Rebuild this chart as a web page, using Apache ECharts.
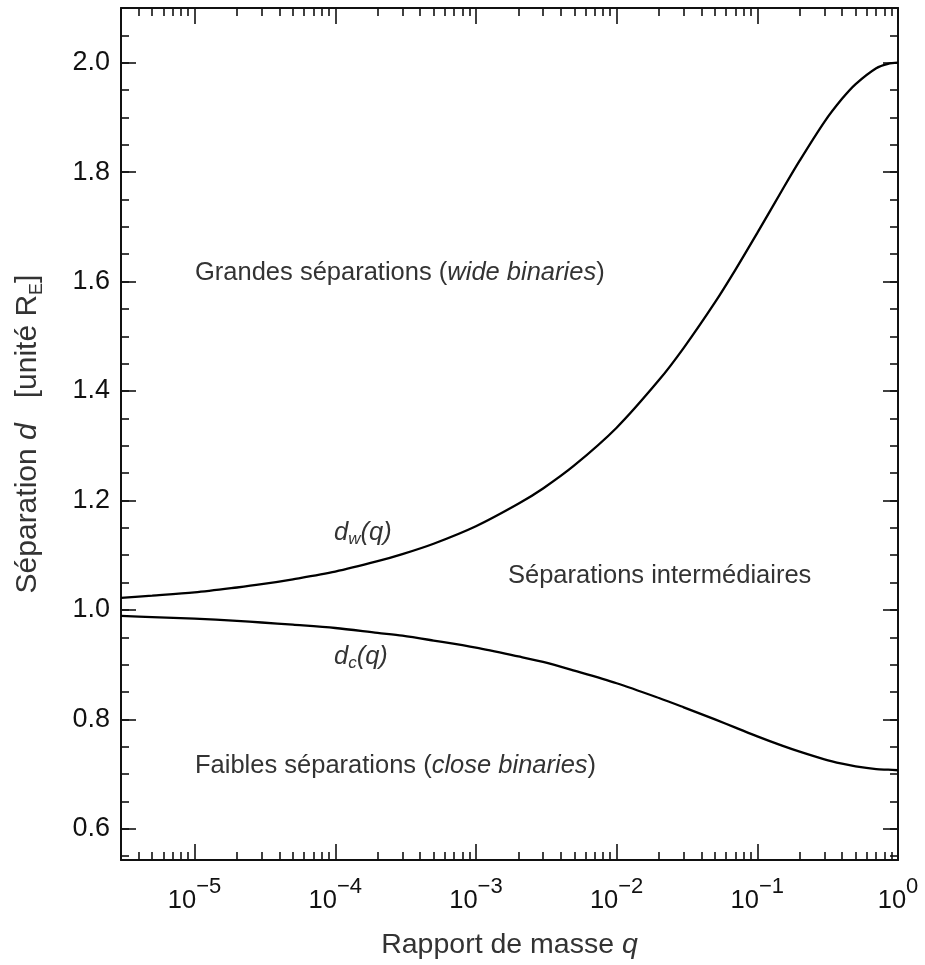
<!DOCTYPE html>
<html>
<head>
<meta charset="utf-8">
<script src="https://cdn.jsdelivr.net/npm/echarts@6/dist/echarts.min.js"></script>
<style>
  html, body { margin: 0; padding: 0; background: #fff; }
  #chart { width: 925px; height: 965px; }
</style>
</head>
<body>
<div id="chart"></div>
<script>
// Mass ratio q (x, log scale)
const qValues = [3e-6, 5e-6, 1e-5, 2e-5, 3e-5, 5e-5, 1e-4, 2e-4, 3e-4, 5e-4,
                 1e-3, 2e-3, 3e-3, 5e-3, 1e-2, 2e-2, 3e-2, 5e-2, 0.07, 0.1,
                 0.15, 0.2, 0.3, 0.4, 0.5, 0.7, 0.85, 1];
// d_w(q): boundary intermediate / wide
const dWide = [1.022, 1.026, 1.032, 1.041, 1.047, 1.056, 1.070, 1.089, 1.102, 1.121,
               1.153, 1.194, 1.222, 1.264, 1.333, 1.420, 1.479, 1.562, 1.622, 1.689,
               1.767, 1.821, 1.892, 1.934, 1.961, 1.990, 1.998, 2.000];
// d_c(q): boundary close / intermediate
const dClose = [0.989, 0.987, 0.984, 0.980, 0.977, 0.973, 0.967, 0.958, 0.953, 0.944,
                0.931, 0.915, 0.905, 0.889, 0.866, 0.839, 0.822, 0.800, 0.785, 0.769,
                0.752, 0.741, 0.727, 0.719, 0.714, 0.709, 0.708, 0.707];

const xMajorTicks = [1e-5, 1e-4, 1e-3, 1e-2, 1e-1, 1];
const xExponents = ['−5', '−4', '−3', '−2', '−1', '0'];
const xMinorTicks = [];
[1e-6, 1e-5, 1e-4, 1e-3, 1e-2, 1e-1].forEach(function (p) {
  for (let m = 2; m <= 9; m++) xMinorTicks.push(+(m * p).toPrecision(3));
});
const yMajorTicks = [0.6, 0.8, 1.0, 1.2, 1.4, 1.6, 1.8, 2.0];
const yMinorTicks = [];
for (let k = 0; k <= 31; k++) yMinorTicks.push(+(0.55 + 0.05 * k).toFixed(2));

const X_MIN = 3e-6, X_MAX = 1, Y_MIN = 0.543, Y_MAX = 2.1;
const FONT = '"Liberation Sans", Helvetica, Arial, sans-serif';
const INK = '#111';

function xAxisDef(pos, ticks, len, labels, line) {
  return {
    type: 'log', logBase: 10, min: X_MIN, max: X_MAX, position: pos,
    axisLine: { show: line, onZero: false, lineStyle: { color: INK, width: 2 } },
    axisTick: { show: true, inside: true, length: len, customValues: ticks,
                lineStyle: { color: INK, width: 1.6 } },
    splitLine: { show: false },
    minorTick: { show: false },
    axisLabel: labels ? {
      show: true, customValues: ticks, margin: 16, fontFamily: FONT, color: INK,
      formatter: function (v) {
        const i = xMajorTicks.findIndex(function (t) { return Math.abs(Math.log10(t) - Math.log10(v)) < 1e-6; });
        return '{b|10}{s|' + (i >= 0 ? xExponents[i] : '') + '}';
      },
      rich: {
        b: { fontSize: 25.5, fontFamily: FONT, color: INK, lineHeight: 38, verticalAlign: 'bottom' },
        s: { fontSize: 22, fontFamily: FONT, color: INK, lineHeight: 22, verticalAlign: 'top' }
      }
    } : { show: false }
  };
}
function yAxisDef(pos, ticks, len, labels, line) {
  return {
    type: 'value', min: Y_MIN, max: Y_MAX, position: pos,
    axisLine: { show: line, onZero: false, lineStyle: { color: INK, width: 2 } },
    axisTick: { show: true, inside: true, length: len, customValues: ticks,
                lineStyle: { color: INK, width: 1.6 } },
    splitLine: { show: false },
    axisLabel: labels ? {
      show: true, customValues: ticks, margin: 11, fontSize: 27, fontFamily: FONT, color: INK,
      formatter: function (v) { return v.toFixed(1); }
    } : { show: false }
  };
}

const xAxes = [
  xAxisDef('bottom', xMajorTicks, 16, true, true),
  xAxisDef('bottom', xMinorTicks, 8, false, false),
  xAxisDef('top', xMajorTicks, 16, false, true),
  xAxisDef('top', xMinorTicks, 8, false, false)
];
xAxes[0].name = '{n|Rapport de masse }{i|q}';
xAxes[0].nameLocation = 'middle';
xAxes[0].nameGap = 71;
xAxes[0].nameTextStyle = {
  rich: {
    n: { fontSize: 28.5, fontFamily: FONT, color: '#333' },
    i: { fontSize: 28.5, fontFamily: FONT, color: '#333', fontStyle: 'italic' }
  }
};

const yAxes = [
  yAxisDef('left', yMajorTicks, 15, true, true),
  yAxisDef('left', yMinorTicks, 8, false, false),
  yAxisDef('right', yMajorTicks, 15, false, true),
  yAxisDef('right', yMinorTicks, 8, false, false)
];
yAxes[0].name = '{n|Séparation }{i|d}{n|   [unité R}{sub|E}{n|]}';
yAxes[0].nameLocation = 'middle';
yAxes[0].nameRotate = 90;
yAxes[0].nameGap = 75;
yAxes[0].nameTextStyle = {
  rich: {
    n: { fontSize: 30, fontFamily: FONT, color: '#333', lineHeight: 36 },
    i: { fontSize: 30, fontFamily: FONT, color: '#333', fontStyle: 'italic', lineHeight: 36 },
    sub: { fontSize: 18, fontFamily: FONT, color: '#333', lineHeight: 18, verticalAlign: 'bottom' }
  }
};

const annoRich = {
  n: { fontSize: 25.5, fontFamily: FONT, color: '#333' },
  i: { fontSize: 25.5, fontFamily: FONT, color: '#333', fontStyle: 'italic' },
  sub: { fontSize: 17, fontFamily: FONT, color: '#333', fontStyle: 'italic', lineHeight: 17, verticalAlign: 'bottom' },
  ib: { fontSize: 25.5, fontFamily: FONT, color: '#333', fontStyle: 'italic', lineHeight: 30 }
};
function anno(x, y, text) {
  return { type: 'text', x: x, y: y, silent: true,
           style: { text: text, rich: annoRich, fontSize: 25.5, fontFamily: FONT, fill: '#333', verticalAlign: 'middle', align: 'left' } };
}

const chart = echarts.init(document.getElementById('chart'), null, { renderer: 'canvas' });
chart.setOption({
  animation: false,
  backgroundColor: '#fff',
  grid: { left: 121, right: 27, top: 8, bottom: 105, containLabel: false, outerBoundsMode: 'none' },
  xAxis: xAxes,
  yAxis: yAxes,
  series: [
    { name: 'dw', type: 'line', xAxisIndex: 0, yAxisIndex: 0, showSymbol: false, smooth: 0.3,
      data: qValues.map(function (q, i) { return [q, dWide[i]]; }),
      lineStyle: { color: '#000', width: 2.3 } },
    { name: 'dc', type: 'line', xAxisIndex: 0, yAxisIndex: 0, showSymbol: false, smooth: 0.3,
      data: qValues.map(function (q, i) { return [q, dClose[i]]; }),
      lineStyle: { color: '#000', width: 2.3 } }
  ],
  graphic: [
    anno(195, 273, '{n|Grandes séparations (}{i|wide binaries}{n|)}'),
    anno(334, 533, '{ib|d}{sub|w}{ib|(q)}'),
    anno(508, 576, '{n|Séparations intermédiaires}'),
    anno(334, 657, '{ib|d}{sub|c}{ib|(q)}'),
    anno(195, 766, '{n|Faibles séparations (}{i|close binaries}{n|)}')
  ]
});
</script>
</body>
</html>
